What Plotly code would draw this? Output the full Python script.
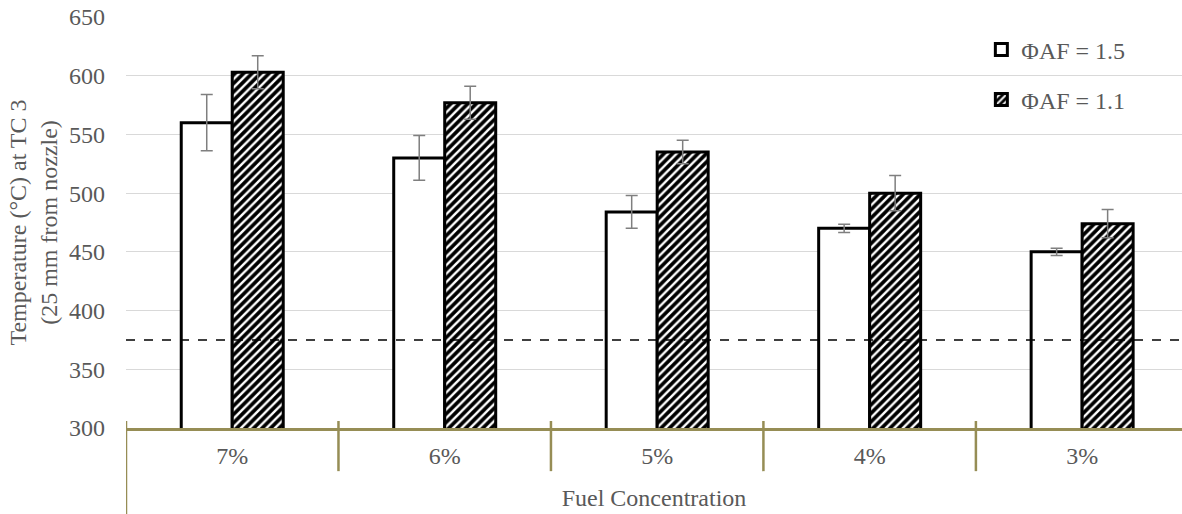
import plotly.graph_objects as go

categories = ["7%", "6%", "5%", "4%", "3%"]
phi15 = [560, 530, 484, 470, 450]
phi15_err = [24, 19, 14, 3.5, 3]
phi11 = [603, 577, 535, 500, 474]
phi11_err = [14, 14, 10, 15, 12]
threshold = 375
series_names = ["ΦAF = 1.5", "ΦAF = 1.1"]
y_ticks = [300, 350, 400, 450, 500, 550, 600, 650]

FONT = "Liberation Serif"
TXT = "#595959"
GOLD = "#968D55"
FS = 24

fig = go.Figure()
fig.add_trace(go.Bar(
    x=categories, y=phi15, name=series_names[0],
    marker=dict(color="white", line=dict(color="black", width=3)),
    error_y=dict(type="data", array=phi15_err, color="#7f7f7f", thickness=1.5, width=6),
    legendgroup="a",
))
fig.add_trace(go.Bar(
    x=categories, y=phi11, name=series_names[1],
    marker=dict(color="black", line=dict(color="black", width=3),
                pattern=dict(shape="/", fgcolor="white", bgcolor="black", fgopacity=1,
                             size=6, solidity=0.4)),
    error_y=dict(type="data", array=phi11_err, color="#7f7f7f", thickness=1.5, width=6),
    legendgroup="b",
))

fig.add_hline(y=threshold, line=dict(color="black", width=1.5, dash="dash"))

# category boundary dividers
for i in range(len(categories) + 1):
    xb = i - 0.5
    y_bottom = -0.23 if i == 0 else -0.105
    fig.add_shape(type="line", xref="x", yref="paper", x0=xb, x1=xb,
                  y0=0.017, y1=y_bottom,
                  line=dict(color=GOLD, width=2.5), layer="above")

fig.update_layout(
    width=1182, height=514,
    margin=dict(l=126, r=0, t=17, b=86),
    paper_bgcolor="white", plot_bgcolor="white",
    barmode="group", bargap=0.52, bargroupgap=0,
    font=dict(family=FONT, color=TXT, size=FS),
    showlegend=True,
    legend=dict(x=0.81, y=0.975, xanchor="left", yanchor="top",
                font=dict(family=FONT, size=FS, color=TXT),
                bgcolor="rgba(0,0,0,0)", traceorder="grouped", tracegroupgap=16,
                itemwidth=30),
    xaxis=dict(type="category", range=[-0.5, 4.47], showgrid=False,
               showline=True, linecolor=GOLD, linewidth=2.5, ticks="",
               ticklabelstandoff=4,
               tickfont=dict(family=FONT, size=FS, color=TXT),
               title=dict(text="Fuel Concentration", font=dict(family=FONT, size=FS, color=TXT), standoff=22)),
    yaxis=dict(range=[300, 650], tickvals=y_ticks,
               showgrid=True, gridcolor="#d9d9d9", gridwidth=1.3,
               zeroline=False, showline=False, ticks="",
               ticklabelstandoff=20,
               tickfont=dict(family=FONT, size=FS, color=TXT),
               title=dict(text="Temperature (°C) at TC 3<br>(25 mm from nozzle)",
                          font=dict(family=FONT, size=FS, color=TXT), standoff=4)),
)
fig.write_html("out.html", config={"displayModeBar": False},
               post_script="document.body.style.margin='0';")
